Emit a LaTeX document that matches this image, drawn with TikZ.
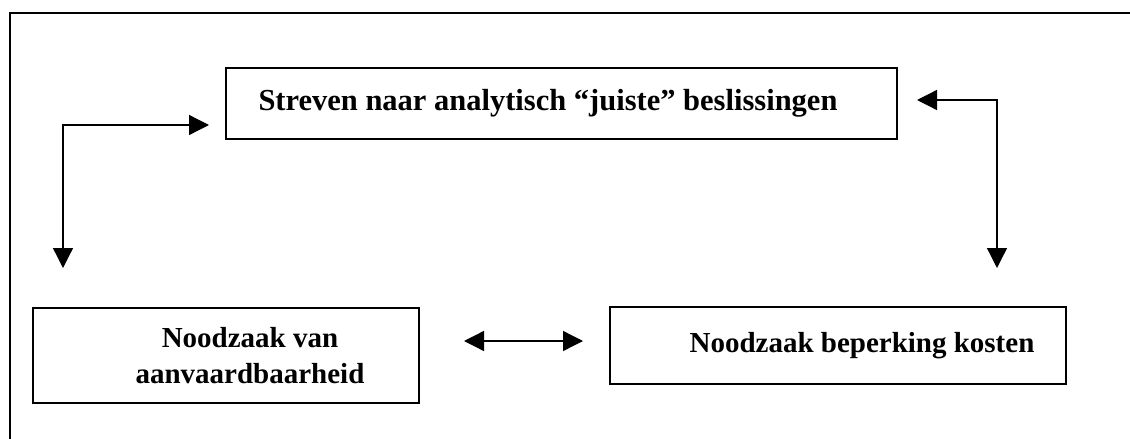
\documentclass[tikz,border=0pt]{standalone}
\usepackage{fontspec}
\setmainfont{Liberation Serif}
\usetikzlibrary{arrows.meta}

\begin{document}
\begin{tikzpicture}[x=1pt,y=-1pt,
		box/.style={draw,line width=1.6pt,inner sep=0pt,align=center,font=\fontsize{29}{36}\selectfont\bfseries},
		link/.style={line width=1.3pt,{Triangle[length=20pt,width=20pt]}-{Triangle[length=20pt,width=20pt]}}]
	
	\useasboundingbox (0,0) rectangle (1130,439);
	\draw[line width=2pt] (1130,13) -- (10,13) -- (10,439);
	
	\node[box,minimum width=671pt,minimum height=71pt,font=\fontsize{30.5}{36}\selectfont\bfseries] (Streven) at (561.5,103.5) {Streven naar analytisch “juiste” beslissingen\hspace*{27pt}};
	\node[box,minimum width=386pt,minimum height=95pt] (Aanv) at (226,355.5) {\hspace*{48pt}Noodzaak van\\\hspace*{48pt}aanvaardbaarheid};
	\node[box,minimum width=456pt,minimum height=77pt] (Kosten) at (838,345.5) {\hspace*{48pt}Noodzaak beperking kosten};
	
	\coordinate (L1) at (63,268);
	\coordinate (L2) at (209,125);
	\coordinate (R1) at (917,100);
	\coordinate (R2) at (997,268);
	\coordinate (M1) at (464,341);
	\coordinate (M2) at (583,341);
	
	\draw[link] (L1) |- (L2);
	\draw[link] (R1) -| (R2);
	\draw[link] (M1) -- (M2);
	
\end{tikzpicture}
\end{document}
